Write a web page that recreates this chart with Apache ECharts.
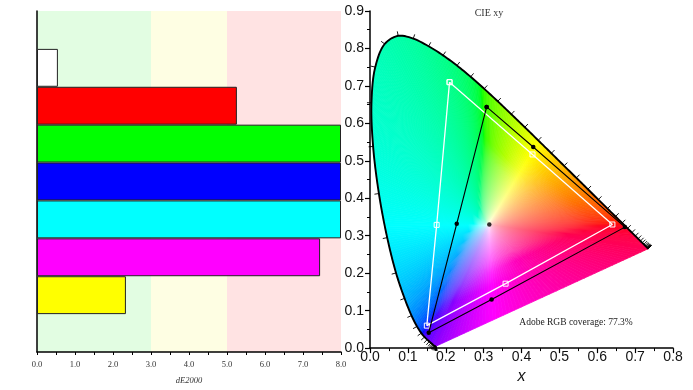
<!DOCTYPE html>
<html><head><meta charset="utf-8">
<script src="https://cdn.jsdelivr.net/npm/echarts@6/dist/echarts.min.js"></script>
<style>html,body{margin:0;padding:0;background:#fff}#c{width:693px;height:390px}</style>
</head><body><div id="c"></div>
<script>
// ---------- data: dE2000 bars ----------
const barCategories = ['', 'White', 'Red', 'Green', 'Blue', 'Cyan', 'Magenta', 'Yellow', ''];
const barValues = [null, 0.55, 5.26, 8.0, 8.0, 8.0, 7.45, 2.34, null];
const dEBandStart = [0, 3, 5];
const dEBandEnd = [3, 5, 8];
// ---------- data: CIE 1931 spectral locus ----------
const wavelengths = [380,385,390,395,400,405,410,415,420,425,430,435,440,445,450,455,460,465,470,475,480,485,490,495,500,505,510,515,520,525,530,535,540,545,550,555,560,565,570,575,580,585,590,595,600,605,610,615,620,625,630,635,640,645,650,655,660,665,670,675,680,685,690,695,700];
const locusX = [0.1741,0.1740,0.1738,0.1736,0.1733,0.1730,0.1726,0.1721,0.1714,0.1703,0.1689,0.1669,0.1644,0.1611,0.1566,0.1510,0.1440,0.1355,0.1241,0.1096,0.0913,0.0687,0.0454,0.0235,0.0082,0.0039,0.0139,0.0389,0.0743,0.1142,0.1547,0.1929,0.2296,0.2658,0.3016,0.3373,0.3731,0.4087,0.4441,0.4788,0.5125,0.5448,0.5752,0.6029,0.6270,0.6482,0.6658,0.6801,0.6915,0.7006,0.7079,0.7140,0.7190,0.7230,0.7260,0.7283,0.7300,0.7311,0.7320,0.7327,0.7334,0.7340,0.7344,0.7346,0.7347];
const locusY = [0.0050,0.0050,0.0049,0.0049,0.0048,0.0048,0.0048,0.0048,0.0051,0.0058,0.0069,0.0086,0.0109,0.0138,0.0177,0.0227,0.0297,0.0399,0.0578,0.0868,0.1327,0.2007,0.2950,0.4127,0.5384,0.6548,0.7502,0.8120,0.8338,0.8262,0.8059,0.7816,0.7543,0.7243,0.6923,0.6589,0.6245,0.5896,0.5547,0.5202,0.4866,0.4544,0.4242,0.3965,0.3725,0.3514,0.3340,0.3197,0.3083,0.2993,0.2920,0.2859,0.2809,0.2770,0.2740,0.2717,0.2700,0.2689,0.2680,0.2673,0.2666,0.2660,0.2656,0.2654,0.2653];
const d65 = [0.3127, 0.3290];
// ---------- data: gamut triangles (G, Y, R, M, B, C, G) ----------
const refX  = [0.210, 0.429, 0.640, 0.358, 0.150, 0.176, 0.210];
const refY  = [0.710, 0.517, 0.330, 0.172, 0.060, 0.329, 0.710];
const measX = [0.308, 0.431, 0.673, 0.321, 0.155, 0.229, 0.308];
const measY = [0.644, 0.537, 0.323, 0.130, 0.041, 0.332, 0.644];
const measWhite = [0.315, 0.330];
const coverage = 77.3;

// ---------- styles ----------
const barColors = ['#fff','#ffffff','#ff0000','#00ff00','#0000ff','#00ffff','#ff00ff','#ffff00','#fff'];
const bandColors = ['#e2fde2', '#fefee3', '#ffe3e3'];
const SERIF = '"Liberation Serif","Times New Roman",serif';
const SANS = '"Liberation Sans",Arial,sans-serif';
const SAT_EXP = 0.6;

function chromaColor(x, y) {
  const X = x, Y = y, Z = 1 - x - y;
  let r = 3.2406*X - 1.5372*Y - 0.4986*Z;
  let g = -0.9689*X + 1.8758*Y + 0.0415*Z;
  let b = 0.0557*X - 0.2040*Y + 1.0570*Z;
  const mn = Math.min(r, g, b);
  if (mn < 0) { r -= mn; g -= mn; b -= mn; }
  const m = Math.max(r, g, b) || 1;
  const enc = c => { c /= m; c = c <= 0.0031308 ? 12.92*c : 1.055*Math.pow(c, 1/2.4) - 0.055; return Math.round(Math.max(0, Math.min(1, c))*255); };
  return 'rgb(' + enc(r) + ',' + enc(g) + ',' + enc(b) + ')';
}

// centripetal Catmull-Rom point between p1 and p2
function cr(p0, p1, p2, p3, u) {
  const d = (a, b) => Math.max(1e-6, Math.pow(Math.hypot(b[0]-a[0], b[1]-a[1]), 0.5));
  const t0 = 0, t1 = t0 + d(p0, p1), t2 = t1 + d(p1, p2), t3 = t2 + d(p2, p3);
  const t = t1 + u * (t2 - t1);
  const lerp = (a, b, ta, tb) => [ (tb - t)/(tb - ta)*a[0] + (t - ta)/(tb - ta)*b[0], (tb - t)/(tb - ta)*a[1] + (t - ta)/(tb - ta)*b[1] ];
  const A1 = lerp(p0, p1, t0, t1), A2 = lerp(p1, p2, t1, t2), A3 = lerp(p2, p3, t2, t3);
  const B1 = lerp(A1, A2, t0, t2), B2 = lerp(A2, A3, t1, t3);
  return lerp(B1, B2, t1, t2);
}

function smoothLocus() {
  const n = locusX.length;
  const P = i => [locusX[Math.max(0, Math.min(n-1, i))], locusY[Math.max(0, Math.min(n-1, i))]];
  const out = [P(0)];
  for (let i = 0; i < n - 1; i++) {
    const p0 = i === 0 ? [2*P(0)[0]-P(1)[0], 2*P(0)[1]-P(1)[1]] : P(i-1);
    const p3 = i === n - 2 ? [2*P(n-1)[0]-P(n-2)[0], 2*P(n-1)[1]-P(n-2)[1]] : P(i+2);
    const p1 = P(i), p2 = P(i+1);
    const steps = Math.max(1, Math.ceil(Math.hypot(p2[0]-p1[0], p2[1]-p1[1]) * 380 / 2.5));
    for (let k = 1; k <= steps; k++) out.push(steps === 1 ? p2 : cr(p0, p1, p2, p3, k / steps));
  }
  return out;
}

function renderGamut(params, api) {
  const children = [];
  const n = locusX.length;
  const spectral = smoothLocus();
  const edge = spectral.slice();
  const a = edge[edge.length - 1], b = edge[0];
  const N = 60;
  for (let k = 1; k < N; k++) {
    const t = k / N;
    edge.push([a[0] + (b[0] - a[0]) * t, a[1] + (b[1] - a[1]) * t]);
  }
  const Wp = api.coord(d65);
  const T = [0, 0.02, 0.05, 0.09, 0.14, 0.2, 0.28, 0.38, 0.5, 0.64, 0.8, 1];
  for (let i = 0; i < edge.length; i++) {
    const p = edge[i], q = edge[(i + 1) % edge.length];
    const mid = [(p[0] + q[0]) / 2, (p[1] + q[1]) / 2];
    const stops = T.map(t => { const s = Math.pow(t, SAT_EXP); return { offset: t, color: chromaColor(d65[0] + s * (mid[0] - d65[0]), d65[1] + s * (mid[1] - d65[1])) }; });
    const Pp = api.coord(p), Qp = api.coord(q), Mp = api.coord(mid);
    const grad = new echarts.graphic.LinearGradient(Wp[0], Wp[1], Mp[0], Mp[1], stops, true);
    children.push({ type: 'polygon', silent: true, shape: { points: [Wp, Pp, Qp] }, style: { fill: grad, stroke: grad, lineWidth: 0.8 } });
  }
  // spectral locus outline
  children.push({ type: 'polyline', silent: true, shape: { points: spectral.map(p => api.coord(p)) }, style: { stroke: '#000', lineWidth: 1.9, fill: null, lineJoin: 'round' } });
  // wavelength ticks every 5 nm
  for (let i = 0; i < n; i++) {
    const P = api.coord([locusX[i], locusY[i]]);
    const A = api.coord([locusX[Math.max(0, i - 1)], locusY[Math.max(0, i - 1)]]);
    const B = api.coord([locusX[Math.min(n - 1, i + 1)], locusY[Math.min(n - 1, i + 1)]]);
    let tx = B[0] - A[0], ty = B[1] - A[1];
    const len = Math.hypot(tx, ty) || 1;
    tx /= len; ty /= len;
    const nx = ty, ny = -tx;
    children.push({ type: 'line', silent: true, shape: { x1: P[0], y1: P[1], x2: P[0] + nx * 4.5, y2: P[1] + ny * 4.5 }, style: { stroke: '#000', lineWidth: 0.9 } });
  }
  return { type: 'group', children };
}

function renderBand(params, api) {
  const cs = params.coordSys;
  const x0 = api.coord([api.value(0), 0])[0];
  const x1 = api.coord([api.value(1), 0])[0];
  return { type: 'rect', silent: true, shape: { x: x0, y: cs.y, width: x1 - x0, height: cs.height }, style: { fill: bandColors[params.dataIndex] } };
}

const chart = echarts.init(document.getElementById('c'), null, { renderer: 'canvas' });
const axisBlack = { show: true, lineStyle: { color: '#000', width: 1.5 } };

chart.setOption({
  animation: false,
  backgroundColor: '#fff',
  grid: [
    { left: 37, top: 11, width: 304, height: 341 },
    { left: 370, top: 11, width: 303, height: 341.7 }
  ],
  xAxis: [
    { gridIndex: 0, type: 'value', min: 0, max: 8, interval: 1,
      axisLine: axisBlack,
      axisTick: { show: true, length: 3, lineStyle: { color: '#000', width: 1 } },
      minorTick: { show: true, splitNumber: 2, length: 3, lineStyle: { color: '#000', width: 1 } },
      splitLine: { show: false },
      axisLabel: { formatter: v => v.toFixed(1), fontFamily: SERIF, fontSize: 8.5, color: '#333', margin: 8 },
      name: 'dE2000', nameLocation: 'middle', nameGap: 24,
      nameTextStyle: { fontFamily: SERIF, fontStyle: 'italic', fontSize: 8.5, color: '#333' } },
    { gridIndex: 1, type: 'value', min: 0, max: 0.8, interval: 0.1,
      axisLine: axisBlack,
      axisTick: { show: true, length: 5, lineStyle: { color: '#000', width: 1.2 } },
      minorTick: { show: true, splitNumber: 2, length: 3, lineStyle: { color: '#000', width: 1 } },
      splitLine: { show: false },
      axisLabel: { formatter: v => v.toFixed(1), fontFamily: SANS, fontSize: 14, color: '#111', margin: 2 },
      name: 'x', nameLocation: 'middle', nameGap: 17,
      nameTextStyle: { fontFamily: SANS, fontStyle: 'italic', fontSize: 16, color: '#111' } }
  ],
  yAxis: [
    { gridIndex: 0, type: 'category', data: barCategories, inverse: true,
      axisLine: axisBlack, axisTick: { show: false }, axisLabel: { show: false }, splitLine: { show: false } },
    { gridIndex: 1, type: 'value', min: 0, max: 0.9, interval: 0.1,
      axisLine: axisBlack,
      axisTick: { show: true, length: 5, lineStyle: { color: '#000', width: 1.2 } },
      minorTick: { show: true, splitNumber: 2, length: 3, lineStyle: { color: '#000', width: 1 } },
      splitLine: { show: false },
      axisLabel: { formatter: v => v.toFixed(1), fontFamily: SANS, fontSize: 14, color: '#111', margin: 6 } }
  ],
  graphic: [
    { type: 'text', x: 489, y: 13, style: { text: 'CIE xy', fontFamily: SERIF, fontSize: 10, fill: '#333', align: 'center', verticalAlign: 'middle' } },
    { type: 'text', x: 576, y: 322, style: { text: 'Adobe RGB coverage: ' + coverage.toFixed(1) + '%', fontFamily: SERIF, fontSize: 9.5, fill: '#222', align: 'center', verticalAlign: 'middle' } }
  ],
  series: [
    { type: 'custom', xAxisIndex: 0, yAxisIndex: 0, z: 0, silent: true,
      data: dEBandStart.map((s, i) => [s, dEBandEnd[i]]), encode: { x: [0, 1] }, renderItem: renderBand },
    { type: 'bar', xAxisIndex: 0, yAxisIndex: 0, z: 2, barWidth: '100%', barCategoryGap: '0%',
      data: barValues.map((v, i) => ({ value: v, itemStyle: { color: barColors[i] } })),
      itemStyle: { borderColor: '#222', borderWidth: 1 } },
    { type: 'custom', xAxisIndex: 1, yAxisIndex: 1, z: 1, silent: true, clip: false,
      data: [[d65[0], d65[1]]], renderItem: renderGamut },
    { type: 'line', xAxisIndex: 1, yAxisIndex: 1, z: 4, silent: true, symbol: 'rect', symbolSize: 5,
      data: refX.map((x, i) => [x, refY[i]]),
      lineStyle: { color: '#fff', width: 1.3 },
      itemStyle: { color: 'rgba(255,255,255,0)', borderColor: '#fff', borderWidth: 1 } },
    { type: 'line', xAxisIndex: 1, yAxisIndex: 1, z: 5, silent: true, symbol: 'circle', symbolSize: 4.5,
      data: measX.map((x, i) => [x, measY[i]]),
      lineStyle: { color: '#000', width: 1.1 },
      itemStyle: { color: '#000' } },
    { type: 'scatter', xAxisIndex: 1, yAxisIndex: 1, z: 5, silent: true, symbol: 'circle', symbolSize: 4.5,
      data: [measWhite], itemStyle: { color: '#000' } }
  ]
});
</script>
</body></html>
